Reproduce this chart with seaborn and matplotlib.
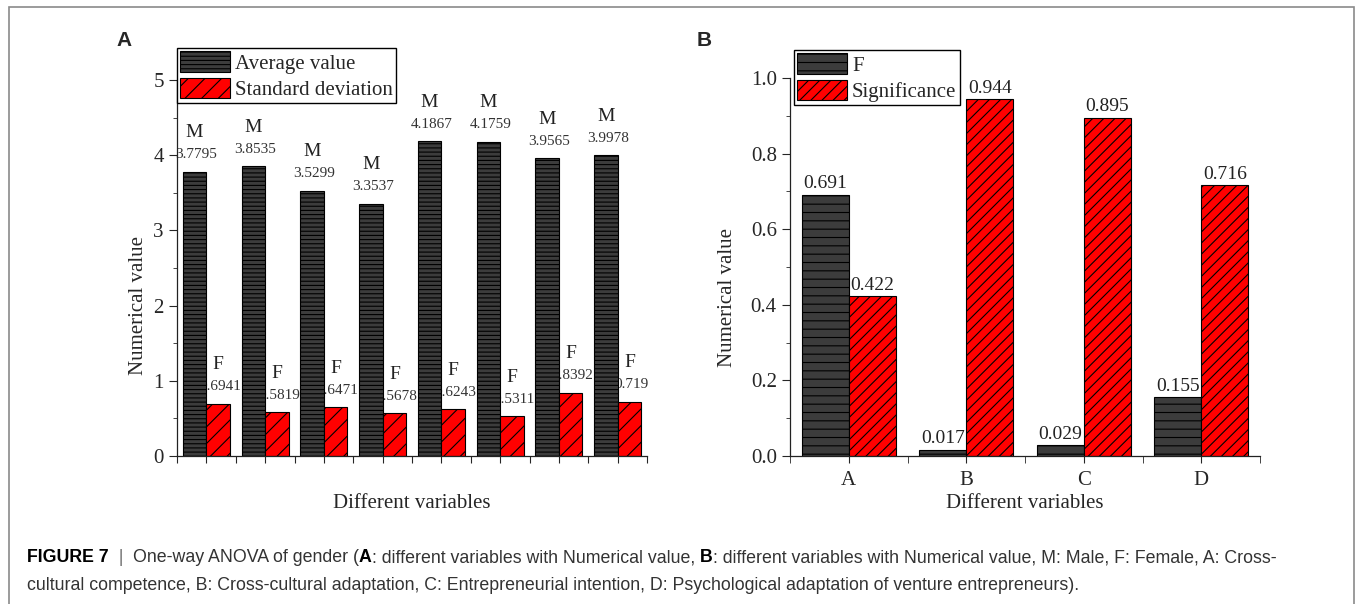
import pandas as pd
import numpy as np
import seaborn as sns
import matplotlib.pyplot as plt
from matplotlib.patches import Patch, Rectangle

# ---- data ----
variables = ['A', 'B', 'C', 'D']
genders = ['M', 'F']
avg_value = [3.7795, 3.8535, 3.5299, 3.3537, 4.1867, 4.1759, 3.9565, 3.9978]
std_dev = [0.6941, 0.5819, 0.6471, 0.5678, 0.6243, 0.5311, 0.8392, 0.719]

f_value = [0.691, 0.017, 0.029, 0.155]
significance = [0.422, 0.944, 0.895, 0.716]

DARK = '#3c3c3c'
RED = '#ff0000'
W, H = 1357, 604

sns.set_style('ticks')
plt.rcParams['font.family'] = ['Liberation Serif', 'DejaVu Serif']
plt.rcParams['hatch.linewidth'] = 0.8
plt.rcParams['axes.edgecolor'] = '#222222'
plt.rcParams['axes.linewidth'] = 0.9

fig = plt.figure(figsize=(W / 100, H / 100), dpi=100)
ax1 = fig.add_axes([177 / W, 1 - 456 / H, 470 / W, 376 / H])
ax2 = fig.add_axes([790 / W, 1 - 456 / H, 470 / W, 378 / H])

# ---- panel A ----
pairs = [f'{v}{i}' for v in variables for i in range(2)]
left = pd.DataFrame({
    'pair': pairs * 2,
    'value': avg_value + std_dev,
    'stat': ['Average value'] * len(pairs) + ['Standard deviation'] * len(pairs),
})
sns.barplot(data=left, x='pair', y='value', hue='stat', order=pairs,
            hue_order=['Average value', 'Standard deviation'],
            palette=[DARK, RED], saturation=1, width=0.8, edgecolor='black',
            linewidth=0.8, legend=False, ax=ax1)
for cont, hatch in zip(ax1.containers, ['----', '//']):
    for bar in cont:
        bar.set_hatch(hatch)

for cont, vals, tag in zip(ax1.containers, [avg_value, std_dev], ['M', 'F']):
    for bar, v in zip(cont, vals):
        x = bar.get_x() + bar.get_width() / 2
        y = bar.get_height()
        ax1.annotate(str(v), (x, y), xytext=(2, 17), textcoords='offset pixels',
                     ha='center', va='center', fontsize=11, color='#333333', zorder=0.5)
        ax1.annotate(tag, (x, y), xytext=(0, 39), textcoords='offset pixels',
                     ha='center', va='center', fontsize=14, color='#222222', zorder=0.5)

ax1.set_xlim(-0.5, 7.5)
ax1.set_ylim(0, 5)
ax1.set_xticks(np.arange(-0.5, 7.6, 0.5))
ax1.set_xticklabels([])
ax1.set_xticks([0.5, 2.5, 4.5, 6.5], minor=True)
ax1.set_xticklabels(variables, minor=True)
ax1.tick_params(axis='x', which='minor', length=0, pad=14, labelsize=15)
ax1.tick_params(axis='x', which='major', length=5)
ax1.set_yticks(range(0, 6))
ax1.set_yticks(np.arange(0.5, 5, 1), minor=True)
ax1.tick_params(axis='y', which='major', length=6, labelsize=15)
ax1.tick_params(axis='y', which='minor', length=3)
ax1.set_xlabel('Different variables', fontsize=15)
ax1.set_ylabel('Numerical value', fontsize=15)
ax1.xaxis.set_label_coords(0.5, -0.1)
ax1.yaxis.set_label_coords(-0.062, 0.40)
sns.despine(ax=ax1)

ax1.legend(handles=[Patch(facecolor=DARK, edgecolor='black', hatch='----', linewidth=0.8),
                    Patch(facecolor=RED, edgecolor='black', hatch='//', linewidth=0.8)],
           labels=['Average value', 'Standard deviation'], loc='upper left',
           bbox_to_anchor=(0.0, 1.085), fontsize=15, frameon=True, fancybox=False,
           edgecolor='black', framealpha=1, handlelength=2.4, handleheight=1.15,
           handletextpad=0.25, labelspacing=0.2, borderpad=0.15, borderaxespad=0)

# ---- panel B ----
right = pd.DataFrame({
    'variable': variables * 2,
    'value': f_value + significance,
    'stat': ['F'] * 4 + ['Significance'] * 4,
})
sns.barplot(data=right, x='variable', y='value', hue='stat', order=variables,
            hue_order=['F', 'Significance'], palette=[DARK, RED], saturation=1,
            width=0.8, edgecolor='black', linewidth=0.8, legend=False, ax=ax2)
for cont, hatch in zip(ax2.containers, ['--', '///']):
    for bar in cont:
        bar.set_hatch(hatch)

for cont, vals in zip(ax2.containers, [f_value, significance]):
    for bar, v in zip(cont, vals):
        x = bar.get_x() + bar.get_width() / 2
        y = bar.get_height()
        ax2.annotate(f'{v:.3f}', (x, y), xytext=(0, 11), textcoords='offset pixels',
                     ha='center', va='center', fontsize=14, color='#222222', zorder=0.5)

ax2.set_xlim(-0.5, 3.5)
ax2.set_ylim(0, 1.0)
ax2.set_xticks(np.arange(0, 4))
ax2.set_xticklabels(variables)
ax2.set_xticks(np.arange(-0.5, 3.6, 1), minor=True)
ax2.tick_params(axis='x', which='both', length=5, labelsize=15, pad=6)
ax2.set_yticks(np.arange(0, 1.01, 0.2))
ax2.set_yticklabels([f'{t:.1f}' for t in np.arange(0, 1.01, 0.2)])
ax2.set_yticks(np.arange(0.1, 1.0, 0.2), minor=True)
ax2.tick_params(axis='y', which='major', length=6, labelsize=15)
ax2.tick_params(axis='y', which='minor', length=3)
ax2.set_xlabel('Different variables', fontsize=15)
ax2.set_ylabel('Numerical value', fontsize=15)
ax2.xaxis.set_label_coords(0.5, -0.1)
ax2.yaxis.set_label_coords(-0.113, 0.42)
sns.despine(ax=ax2)

ax2.legend(handles=[Patch(facecolor=DARK, edgecolor='black', hatch='--', linewidth=0.8),
                    Patch(facecolor=RED, edgecolor='black', hatch='///', linewidth=0.8)],
           labels=['F', 'Significance'], loc='upper left',
           bbox_to_anchor=(0.008, 1.074), fontsize=15, frameon=True, fancybox=False,
           edgecolor='black', framealpha=1, handlelength=2.4, handleheight=1.15,
           handletextpad=0.25, labelspacing=0.2, borderpad=0.15, borderaxespad=0)

# ---- overlay: panel letters, caption, frame ----
over = fig.add_axes([0, 0, 1, 1])
over.axis('off')
over.set_zorder(-1)
over.add_patch(Rectangle((9 / W, -0.02), (1354 - 9) / W, 1.02 - 7 / H,
                         transform=over.transAxes, fill=False, edgecolor='#8a8a8a',
                         linewidth=1.2, clip_on=False))
sans = ['Liberation Sans', 'DejaVu Sans']
over.text(124 / W, 1 - 40 / H, 'A', fontsize=15, fontweight='bold', family=sans,
          ha='center', va='center')
over.text(704 / W, 1 - 40 / H, 'B', fontsize=15, fontweight='bold', family=sans,
          ha='center', va='center')

line1 = [('FIGURE 7', 'bold', 'black'), ('  |  ', 'normal', '#777777'),
         ('One-way ANOVA of gender (', 'normal', '#333333'), ('A', 'bold', 'black'),
         (': different variables with Numerical value, ', 'normal', '#333333'),
         ('B', 'bold', 'black'),
         (': different variables with Numerical value, M: Male, F: Female, A: Cross-',
          'normal', '#333333')]
cap_font = dict(fontsize=12.8, family=sans)
prev = over.text(27 / W, 1 - 556 / H, line1[0][0], fontweight=line1[0][1],
                 color=line1[0][2], va='center_baseline', **cap_font)
for txt, wt, col in line1[1:]:
    prev = over.annotate(txt, xy=(1, 0), xycoords=prev, va='bottom', ha='left',
                         fontweight=wt, color=col, **cap_font)
over.text(27 / W, 1 - 583 / H,
          'cultural competence, B: Cross-cultural adaptation, C: Entrepreneurial intention, '
          'D: Psychological adaptation of venture entrepreneurs).',
          va='center_baseline', color='#333333', **cap_font)

fig.savefig('out.png', dpi=100)
